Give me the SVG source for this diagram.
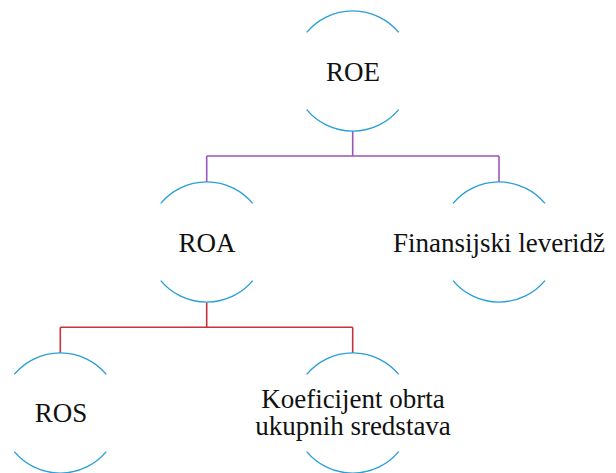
<svg xmlns="http://www.w3.org/2000/svg" width="616" height="473" viewBox="0 0 616 473">
  <style>
    .arc { fill: none; stroke: #2a9fd8; stroke-width: 1.4; }
    .lbl { font-size: 27px; fill: #111; text-anchor: middle; }
    .l1 { fill: none; stroke: #9b55bb; stroke-width: 1.6; }
    .l2 { fill: none; stroke: #c8323a; stroke-width: 1.6; }
  </style>
  <defs>
    <!-- open circle: two arcs (top and bottom) of radius 60 centred at 0,0 -->
    <g id="ring">
      <path class="arc" d="M -46 -38.6 A 60 60 0 0 1 46 -38.6"/>
      <path class="arc" d="M -46 38.6 A 60 60 0 0 0 46 38.6"/>
    </g>
  </defs>

  <g id="connectors">
    <path class="l1" d="M 352.7 131 V 156 M 206.7 156 H 499 M 206.7 156 V 182 M 499 156 V 182"/>
    <path class="l2" d="M 206.7 302.5 V 327.3 M 60.3 327.3 H 352.7 M 60.3 327.3 V 353 M 352.7 327.3 V 353"/>
  </g>

  <g id="roe">
    <use href="#ring" x="352.7" y="71"/>
    <text class="lbl" style="font-family: Liberation Serif, serif" x="353" y="80.7">ROE</text>
  </g>

  <g id="roa">
    <use href="#ring" x="206.7" y="242"/>
    <text class="lbl" style="font-family: Liberation Serif, serif" x="207" y="251.7">ROA</text>
  </g>

  <g id="leveridz">
    <use href="#ring" x="499" y="242"/>
    <text class="lbl" style="font-family: Liberation Serif, serif" x="499" y="251.7">Finansijski leveridž</text>
  </g>

  <g id="ros">
    <use href="#ring" x="60.3" y="413"/>
    <text class="lbl" style="font-family: Liberation Serif, serif" x="61" y="421.7">ROS</text>
  </g>

  <g id="koeficijent">
    <use href="#ring" x="352.7" y="413"/>
    <text class="lbl" style="font-family: Liberation Serif, serif" x="353" y="408.3">Koeficijent obrta</text>
    <text class="lbl" style="font-family: Liberation Serif, serif" x="353" y="435">ukupnih sredstava</text>
  </g>
</svg>
